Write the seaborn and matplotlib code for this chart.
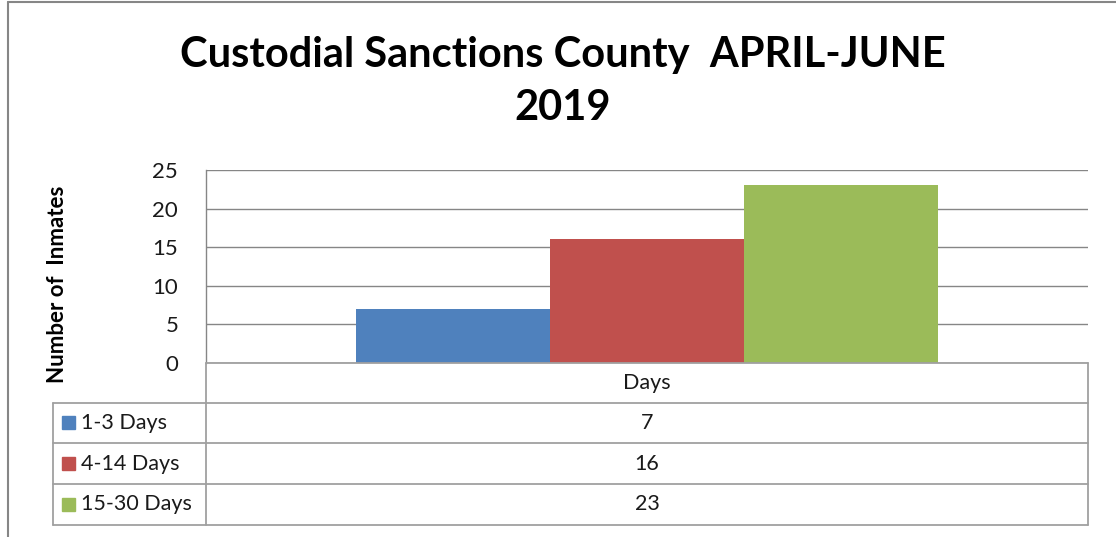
import pandas as pd
import seaborn as sns
import matplotlib.pyplot as plt

# Dane
categories = ["Days"]
series = ["1-3 Days", "4-14 Days", "15-30 Days"]
values = [7, 16, 23]
colors = ["#4F81BD", "#C0504D", "#9BBB59"]
yticks = [0, 5, 10, 15, 20, 25]

df = pd.DataFrame({"cat": categories * len(series), "series": series, "value": values})

sns.set_style("white")
plt.rcParams["font.family"] = ["Lato", "DejaVu Sans"]

W, H = 1116, 537
fig = plt.figure(figsize=(W / 100, H / 100), dpi=100)

def fx(px):
    return px / W

def fy(py):
    return 1 - py / H

# ramka wykresu
fig.add_artist(plt.Line2D([fx(8), fx(8)], [fy(2), fy(537)], color="#868686", lw=1.5))
fig.add_artist(plt.Line2D([fx(8), fx(1116)], [fy(2), fy(2)], color="#868686", lw=1.5))

# obszar wykresu
x0, x1, ytop, y0 = 206, 1088, 170, 363
ax = fig.add_axes([fx(x0), fy(y0), fx(x1) - fx(x0), fy(ytop) - fy(y0)])
sns.barplot(data=df, x="cat", y="value", hue="series", palette=colors,
            width=0.66, gap=0, saturation=1, legend=False, linewidth=0, ax=ax)
ax.set_ylim(0, 25)
ax.set_yticks(yticks)
ax.set_yticklabels([str(t) for t in yticks], fontsize=16, color="#1a1a1a")
ax.tick_params(axis="y", length=0, pad=20)
ax.set_xticks([])
ax.set_xlabel("")
ax.set_ylabel("")
ax.grid(axis="y", color="#868686", lw=1)
ax.set_axisbelow(True)
for side in ["top", "bottom", "right"]:
    ax.spines[side].set_visible(False)
ax.spines["left"].set_color("#868686")
ax.spines["left"].set_linewidth(1)

# tytuł
fig.text(fx(563), fy(55), "Custodial Sanctions County  APRIL-JUNE", ha="center", va="center",
         fontsize=30, fontweight="bold", color="black")
fig.text(fx(563), fy(108), "2019", ha="center", va="center", fontsize=30,
         fontweight="bold", color="black")
fig.text(fx(58), fy(284), "Number of  Inmates", rotation=90, ha="center", va="center",
         fontsize=16, fontweight="bold", color="black")

# tabela danych
lc = "#A0A0A0"
rows = [363, 403, 443, 484, 525]
tx0 = 53
for i, r in enumerate(rows):
    left = x0 if i == 0 else tx0
    fig.add_artist(plt.Line2D([fx(left), fx(x1)], [fy(r), fy(r)], color=lc, lw=1.3))
fig.add_artist(plt.Line2D([fx(x0), fx(x0)], [fy(rows[0]), fy(rows[-1])], color=lc, lw=1.3))
fig.add_artist(plt.Line2D([fx(x1), fx(x1)], [fy(rows[0]), fy(rows[-1])], color=lc, lw=1.3))
fig.add_artist(plt.Line2D([fx(tx0), fx(tx0)], [fy(rows[1]), fy(rows[-1])], color=lc, lw=1.3))

xc = (x0 + x1) / 2
fig.text(fx(xc), fy((rows[0] + rows[1]) / 2), categories[0], ha="center", va="center",
         fontsize=15.5, color="#1a1a1a")
for i, (s, v, c) in enumerate(zip(series, values, colors)):
    yc = (rows[i + 1] + rows[i + 2]) / 2
    fig.add_artist(plt.Rectangle((fx(62), fy(yc + 6)), fx(13), fy(0) - fy(13), color=c))
    fig.text(fx(81), fy(yc), s, ha="left", va="center", fontsize=15.5, color="#1a1a1a")
    fig.text(fx(xc), fy(yc), str(v), ha="center", va="center", fontsize=15.5, color="#1a1a1a")

plt.savefig("out.png", dpi=100)
